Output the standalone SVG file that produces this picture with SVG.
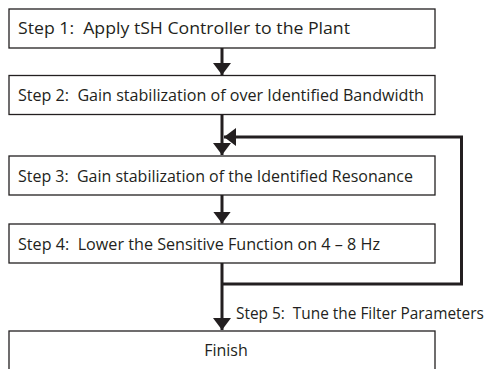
<svg xmlns="http://www.w3.org/2000/svg" width="492" height="369" viewBox="0 0 492 369">
  <style>
    .box { fill: #ffffff; stroke: #231f20; stroke-width: 1.3; }
    .label { font-family: "Open Sans", "Liberation Sans", sans-serif; font-size: 16px; fill: #231f20; white-space: pre; }
    .side { font-size: 15.4px; }
    .wire { fill: none; stroke: #231f20; stroke-width: 3; }
  </style>
  <defs>
    <marker id="head" markerUnits="userSpaceOnUse" markerWidth="20" markerHeight="20" viewBox="0 0 20 12" refX="12" refY="6" orient="auto">
      <path d="M0,-3 L12,6 L0,15 Z" fill="#231f20"/>
    </marker>
  </defs>
  <rect width="492" height="369" fill="#ffffff"/>

  <g id="connectors">
    <path class="wire" d="M222,48 V75" marker-end="url(#head)"/>
    <path class="wire" d="M222,115 V155" marker-end="url(#head)"/>
    <path class="wire" d="M222,195 V223.5" marker-end="url(#head)"/>
    <path class="wire" d="M222,263 V330" marker-end="url(#head)"/>
    <path class="wire" d="M222,284 H461.5 V137 H224" marker-end="url(#head)"/>
  </g>

  <g id="step1">
    <rect class="box" x="9" y="9" width="426" height="39"/>
    <text class="label" x="18" y="34" textLength="332" lengthAdjust="spacingAndGlyphs" xml:space="preserve">Step 1:  Apply tSH Controller to the Plant</text>
  </g>
  <g id="step2">
    <rect class="box" x="9" y="75.5" width="426" height="39"/>
    <text class="label" x="18" y="100.5" textLength="406" lengthAdjust="spacingAndGlyphs" xml:space="preserve">Step 2:  Gain stabilization of over Identified Bandwidth</text>
  </g>
  <g id="step3">
    <rect class="box" x="9" y="156" width="426" height="39"/>
    <text class="label" x="18" y="181.5" textLength="395" lengthAdjust="spacingAndGlyphs" xml:space="preserve">Step 3:  Gain stabilization of the Identified Resonance</text>
  </g>
  <g id="step4">
    <rect class="box" x="9" y="224" width="426" height="39"/>
    <text class="label" x="18" y="249.5" textLength="362" lengthAdjust="spacingAndGlyphs" xml:space="preserve">Step 4:  Lower the Sensitive Function on 4 – 8 Hz</text>
  </g>
  <g id="step5">
    <text class="label side" x="236" y="319" xml:space="preserve">Step 5:  Tune the Filter Parameters</text>
  </g>
  <g id="finish">
    <rect class="box" x="9" y="331" width="426" height="50"/>
    <text class="label" x="226" y="355.5" text-anchor="middle">Finish</text>
  </g>
</svg>
